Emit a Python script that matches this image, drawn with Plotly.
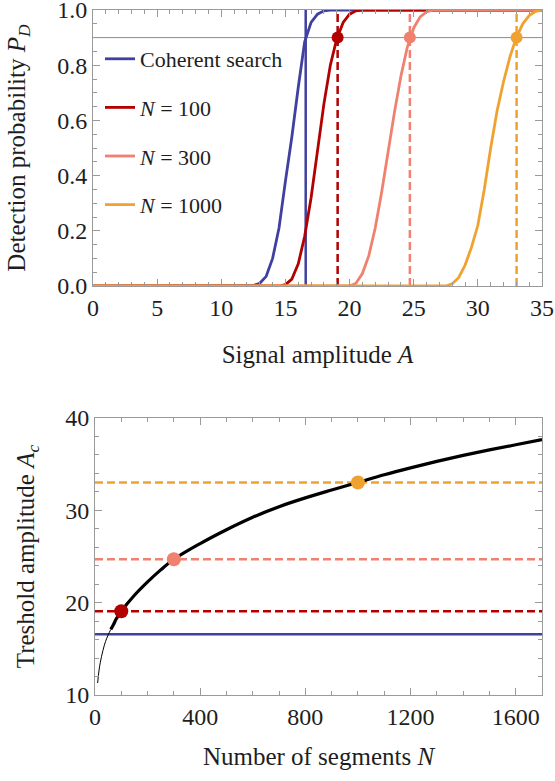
import plotly.graph_objects as go

# ---------------- data ----------------
# Top panel: detection probability vs signal amplitude
A_coh = [0, 12.0, 12.5, 13.0, 13.5, 14.0, 14.5, 15.0, 15.5, 16.0, 16.5, 17.0, 17.5, 18.0, 18.5, 35]
P_coh = [0, 0, 0.002, 0.01, 0.035, 0.10, 0.21, 0.38, 0.54, 0.72, 0.885, 0.955, 0.985, 0.997, 1.0, 1.0]

A_100 = [0, 14.5, 15.0, 15.5, 16.0, 16.5, 17.0, 17.5, 18.0, 18.5, 19.0, 19.5, 20.0, 20.5, 21.0, 35]
P_100 = [0, 0, 0.005, 0.025, 0.08, 0.18, 0.32, 0.49, 0.66, 0.80, 0.895, 0.955, 0.985, 0.997, 1.0, 1.0]

A_300 = [0, 20.0, 20.5, 21.0, 21.5, 22.0, 22.5, 23.0, 23.5, 24.0, 24.5, 25.0, 25.5, 26.0, 26.5, 35]
P_300 = [0, 0, 0.01, 0.045, 0.11, 0.21, 0.34, 0.49, 0.63, 0.76, 0.865, 0.935, 0.975, 0.993, 1.0, 1.0]

A_1000 = [0, 27.5, 28.0, 28.5, 29.0, 29.5, 30.0, 30.5, 31.0, 31.5, 32.0, 32.5, 33.0, 33.5, 34.0, 34.5, 35.0]
P_1000 = [0, 0, 0.008, 0.03, 0.075, 0.14, 0.22, 0.35, 0.50, 0.635, 0.74, 0.83, 0.90, 0.95, 0.98, 0.995, 1.0]

series_names = ["Coherent search", "<i>N</i> = 100", "<i>N</i> = 300", "<i>N</i> = 1000"]
series_colors = ["#4040a0", "#b30000", "#f0806f", "#f0a230"]
series_A = [A_coh, A_100, A_300, A_1000]
series_P = [P_coh, P_100, P_300, P_1000]

PD_target = 0.9
# threshold amplitudes where P_D = 0.9
Ac_values = [16.58, 19.07, 24.7, 33.02]
N_marks = [None, 100, 300, 1000]

# Bottom panel: threshold amplitude vs number of segments
N_curve = [10, 15, 20, 30, 40, 50, 60, 70, 80, 100, 150, 200, 250, 300, 400, 500, 600,
           700, 800, 900, 1000, 1100, 1200, 1300, 1400, 1500, 1600, 1700]
Ac_curve = [11.3, 12.6, 13.5, 14.8, 15.8, 16.5, 17.1, 17.6, 18.2, 19.07, 20.8, 22.25, 23.55, 24.7,
            26.4, 27.9, 29.25, 30.4, 31.35, 32.2, 33.02, 33.85, 34.6, 35.3, 35.95, 36.55, 37.1, 37.66]
N_thin_end = 60

x1_range = [0, 35]
x2_range = [0, 1700]

# ---------------- figure ----------------
W, H = 555, 781
FONT = "Liberation Serif"
FRAME = "#9a9a9a"
TXT = "#1e1e1e"

fig = go.Figure()

# y = 0.9 reference line
fig.add_trace(go.Scatter(x=x1_range, y=[PD_target, PD_target], mode="lines",
                         line=dict(color="#8c8c8c", width=1), showlegend=False,
                         xaxis="x", yaxis="y", hoverinfo="skip"))

# vertical threshold lines (top)
for i, (ac, col) in enumerate(zip(Ac_values, series_colors)):
    fig.add_trace(go.Scatter(x=[ac, ac], y=[0, 1], mode="lines",
                             line=dict(color=col, width=2.5,
                                       dash="solid" if i == 0 else "8px,4px"),
                             showlegend=False, xaxis="x", yaxis="y", hoverinfo="skip"))

# detection probability curves
for k, (A, P, name, col) in enumerate(zip(series_A, series_P, series_names, series_colors)):
    fig.add_trace(go.Scatter(x=A, y=P, mode="lines", name=name,
                             line=dict(color=col, width=2.8),
                             legendgroup=f"g{k}", showlegend=True,
                             xaxis="x", yaxis="y"))

# markers at P_D = 0.9 (top)
for ac, col, n in zip(Ac_values, series_colors, N_marks):
    if n is None:
        continue
    fig.add_trace(go.Scatter(x=[ac], y=[PD_target], mode="markers",
                             marker=dict(color=col, size=12), showlegend=False,
                             xaxis="x", yaxis="y"))

# bottom horizontal lines
for i, (ac, col) in enumerate(zip(Ac_values, series_colors)):
    fig.add_trace(go.Scatter(x=x2_range, y=[ac, ac], mode="lines",
                             line=dict(color=col, width=2.4,
                                       dash="solid" if i == 0 else "8px,4px"),
                             showlegend=False, xaxis="x2", yaxis="y2", hoverinfo="skip"))

# black curve: thin part and thick part
thin_N = [n for n in N_curve if n <= N_thin_end]
thin_A = [a for n, a in zip(N_curve, Ac_curve) if n <= N_thin_end]
thick_N = [n for n in N_curve if n >= N_thin_end]
thick_A = [a for n, a in zip(N_curve, Ac_curve) if n >= N_thin_end]
fig.add_trace(go.Scatter(x=thin_N, y=thin_A, mode="lines", line=dict(color="black", width=1, shape="spline"),
                         showlegend=False, xaxis="x2", yaxis="y2"))
fig.add_trace(go.Scatter(x=thick_N, y=thick_A, mode="lines", line=dict(color="black", width=3.2, shape="spline"),
                         showlegend=False, xaxis="x2", yaxis="y2"))

# markers on bottom curve
for ac, col, n in zip(Ac_values, series_colors, N_marks):
    if n is None:
        continue
    fig.add_trace(go.Scatter(x=[n], y=[ac], mode="markers",
                             marker=dict(color=col, size=14), showlegend=False,
                             xaxis="x2", yaxis="y2"))

tickfont = dict(family=FONT, size=24, color=TXT)
titlefont = dict(family=FONT, size=25, color=TXT)


def px_x(p):
    return p / W


def px_y(p):
    return 1 - p / H


def axis_common():
    return dict(showgrid=False, zeroline=False, showline=True, linecolor=FRAME, linewidth=1,
                mirror="allticks", ticks="inside", ticklen=7, tickcolor=FRAME, tickwidth=1,
                tickfont=tickfont, automargin=False, ticklabeloverflow="allow")


xaxis = axis_common()
xaxis.update(domain=[px_x(93), px_x(542)], range=x1_range, dtick=5, tick0=0, anchor="y",
             minor=dict(ticks="inside", ticklen=4, dtick=1, tickcolor=FRAME, showgrid=False),
             title=dict(text="Signal amplitude <i>A</i>", font=titlefont, standoff=25))
yaxis = axis_common()
yaxis.update(domain=[px_y(286), px_y(10)], range=[0, 1], dtick=0.2, tick0=0, anchor="x",
             tickformat=".1f",
             minor=dict(ticks="inside", ticklen=4, dtick=0.05, tickcolor=FRAME, showgrid=False),
             title=dict(text="Detection probability <i>P</i><sub><i>D</i></sub>", font=titlefont, standoff=24))

xaxis2 = axis_common()
xaxis2.update(domain=[px_x(95), px_x(542)], range=x2_range, dtick=400, tick0=0, anchor="y2",
              minor=dict(ticks="inside", ticklen=4, dtick=100, tickcolor=FRAME, showgrid=False),
              title=dict(text="Number of segments <i>N</i>", font=titlefont, standoff=18))
yaxis2 = axis_common()
yaxis2.update(domain=[px_y(695), px_y(418)], range=[10, 40], dtick=10, tick0=10, anchor="x2",
              minor=dict(ticks="inside", ticklen=4, dtick=2, tickcolor=FRAME, showgrid=False),
              title=dict(text="Treshold amplitude <i>A</i><sub><i>c</i></sub>", font=titlefont, standoff=23))

fig.update_layout(
    width=W, height=H,
    margin=dict(l=0, r=0, t=0, b=0, autoexpand=False),
    paper_bgcolor="white", plot_bgcolor="white",
    font=dict(family=FONT, color=TXT),
    xaxis=xaxis, yaxis=yaxis, xaxis2=xaxis2, yaxis2=yaxis2,
    legend=dict(x=px_x(100), y=px_y(38), xanchor="left", yanchor="top",
                bgcolor="rgba(0,0,0,0)", borderwidth=0,
                font=dict(family=FONT, size=22, color=TXT),
                tracegroupgap=17, itemwidth=30),
    showlegend=True,
)

# remove the browser's default 8px page margin so the figure fills the window exactly
fig.write_html("out.html",
               config={"displayModeBar": False},
               post_script="document.body.style.margin='0';document.body.style.overflow='hidden';")
